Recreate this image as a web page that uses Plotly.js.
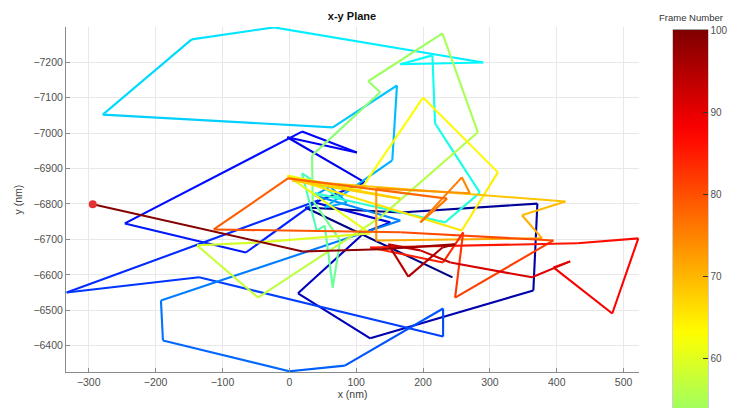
<!DOCTYPE html>
<html>
<head>
<meta charset="utf-8">
<script src="https://cdn.plot.ly/plotly-3.0.1.min.js"></script>
<style>html,body{margin:0;padding:0;background:#fff;}#chart{width:738px;height:408px;}</style>
</head>
<body>
<div id="chart"></div>
<script>
// Frame numbers of the trajectory
const frames = [1,2,3,4,5,6,7,8,9,10,11,12,13,14,15,16,17,18,19,20,
  21,22,23,24,25,26,27,28,29,30,31,32,33,34,35,36,37,38,39,40,
  41,42,43,44,45,46,47,48,49,50,51,52,53,54,55,56,57,58,59,60,
  61,62,63,64,65,66,67,68,69,70,71,72,73,74,75,76,77,78,79,80,
  81,82,83,84,85,86,87,88,89,90,91,92,93,94,95,96,97,98,99,100];
// x positions (nm)
const xNm = [244,24,166,371,365,121,13,113,151,38,113,-3,101,19,-246,-65,43,-333,-135,230,
  230,83,0,-189,-192,166,38,61,86,53,154,161,65,-279,-146,-23,290,166,214,218,
  285,233,38,76,19,41,53,65,76,35,34,136,118,229,282,136,-47,-138,-50,121,
  -3,106,200,312,258,-3,166,4,413,348,378,130,130,270,258,196,236,-2,-113,166,
  395,248,260,230,121,431,522,483,395,420,363,241,196,148,178,229,248,136,20,-294];
// y positions (nm)
const yNm = [-6593,-6790,-6776,-6801,-6556,-6421,-6548,-6720,-6748,-6804,-6861,-6988,-6945,-7004,-6745,-6663,-6810,-6550,-6593,-6426,
  -6505,-6344,-6328,-6415,-6528,-6753,-6824,-6849,-6804,-6790,-6923,-7134,-7016,-7052,-7264,-7298,-7199,-7194,-7219,-7027,
  -6832,-6748,-6830,-6815,-6886,-6725,-6739,-6564,-6697,-6810,-6937,-7115,-7146,-7281,-7002,-6762,-6536,-6683,-6691,-6717,
  -6880,-6838,-7100,-6889,-6725,-6875,-6815,-6866,-6807,-6768,-6703,-6697,-6844,-6830,-6875,-6748,-6815,-6872,-6728,-6720,
  -6697,-6536,-6720,-6635,-6677,-6689,-6703,-6491,-6621,-6638,-6593,-6635,-6669,-6686,-6595,-6677,-6686,-6672,-6666,-6799];
const xTicks = [-300,-200,-100,0,100,200,300,400,500];
const yTicks = [-7200,-7100,-7000,-6900,-6800,-6700,-6600,-6500,-6400];
const cbTicks = [60,70,80,90,100];

function jetRGB(t){
  t=Math.max(0,Math.min(1,t));
  let r,g,b;
  if(t<0.125){r=0;g=0;b=0.5+4*t;}
  else if(t<0.375){r=0;g=4*(t-0.125);b=1;}
  else if(t<0.625){r=4*(t-0.375);g=1;b=1-4*(t-0.375);}
  else if(t<0.875){r=1;g=1-4*(t-0.625);b=0;}
  else {r=1-4*(t-0.875);g=0;b=0;}
  return [r,g,b];
}
function jet(t){const c=jetRGB(t);return 'rgb('+Math.round(c[0]*255)+','+Math.round(c[1]*255)+','+Math.round(c[2]*255)+')';}
const fmin=1,fmax=100;
// the colour bar runs off the bottom of the figure; only its visible part (from frame ~53.5) is drawn
const cbLow=53.5;
const t0=(cbLow-fmin)/(fmax-fmin);
const cbScale=[];
for(let k=0;k<=24;k++){const s=k/24;cbScale.push([s,jet(t0+s*(1-t0))]);}
const pxPerFrame=82/10;

const traces=[];
for(let i=0;i<xNm.length-1;i++){
  const f=(frames[i]+frames[i+1])/2;
  traces.push({type:'scatter',mode:'lines',x:[xNm[i],xNm[i+1]],y:[yNm[i],yNm[i+1]],
    line:{color:jet((f-fmin)/(fmax-fmin)),width:2.1},hoverinfo:'skip',showlegend:false});
}
traces.push({type:'scatter',mode:'markers',x:xNm,y:yNm,hoverinfo:'skip',showlegend:false,
  marker:{size:0.1,opacity:0,color:frames,cmin:cbLow,cmax:fmax,colorscale:cbScale,showscale:true,
    colorbar:{xref:'container',x:673/738,xanchor:'left',yref:'container',y:1-36/408,yanchor:'top',
      xpad:0,ypad:0,thicknessmode:'pixels',thickness:35,lenmode:'pixels',len:(fmax-cbLow)*pxPerFrame,
      outlinecolor:'#9a9a9a',outlinewidth:0,bgcolor:'rgba(0,0,0,0)',borderwidth:0,
      tickvals:cbTicks,ticks:'inside',ticklen:5,tickcolor:'#333',
      tickfont:{family:'Liberation Sans, Arial',size:10,color:'#505050'},
      title:{text:''}}}});
traces.push({type:'scatter',mode:'markers',x:[xNm[xNm.length-1]],y:[yNm[yNm.length-1]],
  marker:{size:8,color:'rgb(228,50,50)'},hoverinfo:'skip',showlegend:false});

const axFont={family:'Liberation Sans, Arial',size:10.5,color:'#505050'};
const layout={
  width:738,height:408,margin:{l:66,r:99,t:27,b:36},
  paper_bgcolor:'#fff',plot_bgcolor:'#fff',showlegend:false,
  title:{text:'<b>x-y Plane</b>',font:{family:'Liberation Sans, Arial',size:11,color:'#111'},
    x:352/738,xanchor:'center',xref:'container',yref:'container',y:1-16/408,yanchor:'middle'},
  annotations:[{text:'Frame Number',xref:'paper',yref:'paper',
    x:(691-66)/573,y:(372-18)/345,xanchor:'center',yanchor:'middle',showarrow:false,
    font:{family:'Liberation Sans, Arial',size:9.5,color:'#333'}}],
  shapes:[{type:'rect',xref:'paper',yref:'paper',x0:(673-66)/573,x1:(708-66)/573,
    y0:(372-29.5)/345,y1:-0.2,line:{color:'#a0a0a0',width:1},fillcolor:'rgba(0,0,0,0)',layer:'above'}],
  xaxis:{range:[-334,523],tickvals:xTicks,showgrid:true,gridcolor:'#e8e8e8',gridwidth:1,zeroline:false,
    showline:true,linecolor:'#8a8a8a',linewidth:1,ticks:'inside',ticklen:4,tickcolor:'#8a8a8a',
    tickfont:axFont,automargin:false,
    title:{text:'x (nm)',font:{family:'Liberation Sans, Arial',size:10.5,color:'#404040'},standoff:4}},
  yaxis:{range:[-6326,-7299],tickvals:yTicks,showgrid:true,gridcolor:'#e8e8e8',gridwidth:1,zeroline:false,
    showline:true,linecolor:'#8a8a8a',linewidth:1,ticks:'inside',ticklen:4,tickcolor:'#8a8a8a',
    tickfont:axFont,automargin:false,
    title:{text:'y (nm)',font:{family:'Liberation Sans, Arial',size:10.5,color:'#404040'},standoff:8}}
};
Plotly.newPlot('chart',traces,layout,{staticPlot:true,displayModeBar:false});
</script>
</body>
</html>
